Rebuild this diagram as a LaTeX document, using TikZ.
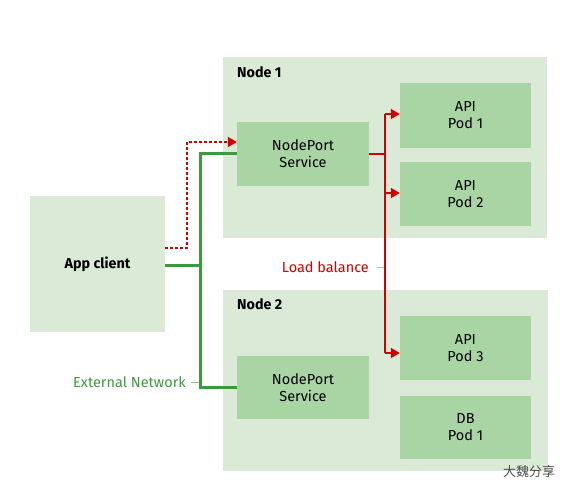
\documentclass[tikz,border=0pt]{standalone}
\usepackage{fontspec}
\setmainfont{Fira Sans}
\newfontfamily\cjk{Noto Sans CJK SC}
\usetikzlibrary{arrows.meta}
\definecolor{outerg}{HTML}{DAEAD6}
\definecolor{innerg}{HTML}{A9D4A4}
\definecolor{lineg}{HTML}{3C9A3C}
\definecolor{liner}{HTML}{D00000}
\definecolor{linerl}{HTML}{F0A0A0}
\tikzset{
  innerbox/.style={fill=innerg, draw=none, align=center, inner sep=0pt, font=\fontsize{14.5}{17}\selectfont},
  grn/.style={draw=lineg, line width=3pt},
  rd/.style={draw=liner, line width=1.6pt},
  tip/.style={-{Triangle[length=9pt,width=10pt]}},
  lbl/.style={font=\fontsize{14.5}{17}\selectfont},
  boldlbl/.style={font=\fontsize{14.3}{17}\selectfont\bfseries},
}
\begin{document}
\begin{tikzpicture}[x=1pt,y=-1pt]
\useasboundingbox (0,0) rectangle (579,498);
% containers
\path[fill=outerg] (223,57) rectangle (547,238);
\path[fill=outerg] (223,290) rectangle (548,471);
\path[fill=outerg] (30,196) rectangle (165,332);
\node[boldlbl, anchor=base west, inner sep=0pt] (n1) at (237,77) {Node 1};
\node[boldlbl, anchor=base west, inner sep=0pt] (n2) at (237,309) {Node 2};
\node[inner sep=0pt, minimum width=135pt, minimum height=136pt] (app) at (97.5,264) {};
\node[boldlbl] (applbl) at (app.center) {App client};
% inner boxes
\node[innerbox, minimum width=132pt, minimum height=64pt] (np1) at (303,154) {NodePort\\Service};
\node[innerbox, minimum width=132pt, minimum height=63pt] (np2) at (303,387.5) {NodePort\\Service};
\node[innerbox, minimum width=131pt, minimum height=65pt] (p1) at (465.5,115.5) {API\\Pod 1};
\node[innerbox, minimum width=131pt, minimum height=64pt] (p2) at (465.5,194) {API\\Pod 2};
\node[innerbox, minimum width=131pt, minimum height=64pt] (p3) at (465.5,348) {API\\Pod 3};
\node[innerbox, minimum width=131pt, minimum height=63pt] (p4) at (465.5,427.5) {DB\\Pod 1};
% coordinates
\coordinate (gj) at (200,265);
\coordinate (rj) at (385,154);
% green network
\draw[grn] (app.east |- gj) -- (gj);
\draw[grn] (np1.west |- 0,153) -| (200,387) -- (np2.west |- 0,387);
% red dotted
\draw[draw=liner, line width=1.5pt, dash pattern=on 2.5pt off 2.5pt, tip] (app.east |- 0,248) -| (187,142) -- (np1.west |- 0,142);
% red load balance
\draw[rd] (np1.east |- rj) -- (rj);
\draw[rd] (385,114) -- (385,353);
\draw[rd, tip] (385,114) -- (p1.west |- 0,114);
\draw[rd, tip] (385,193) -- (p2.west |- 0,193);
\draw[rd, tip] (385,353) -- (p3.west |- 0,353);
% labels
\node[lbl, text=liner, anchor=east, inner sep=0pt] (lb) at (369,267) {Load balance};
\draw[draw=linerl, line width=1pt] (377,267) -- (384,267);
\node[lbl, text=lineg, anchor=east, inner sep=0pt] (en) at (186,382) {External Network};
\draw[draw=lineg!60, line width=1pt] (191,382) -- (199,382);
% watermark
\node[font=\cjk\fontsize{13}{15}\selectfont, text=black!70, anchor=west, inner sep=0pt] (wm) at (503,472) {大魏分享};
\end{tikzpicture}
\end{document}
